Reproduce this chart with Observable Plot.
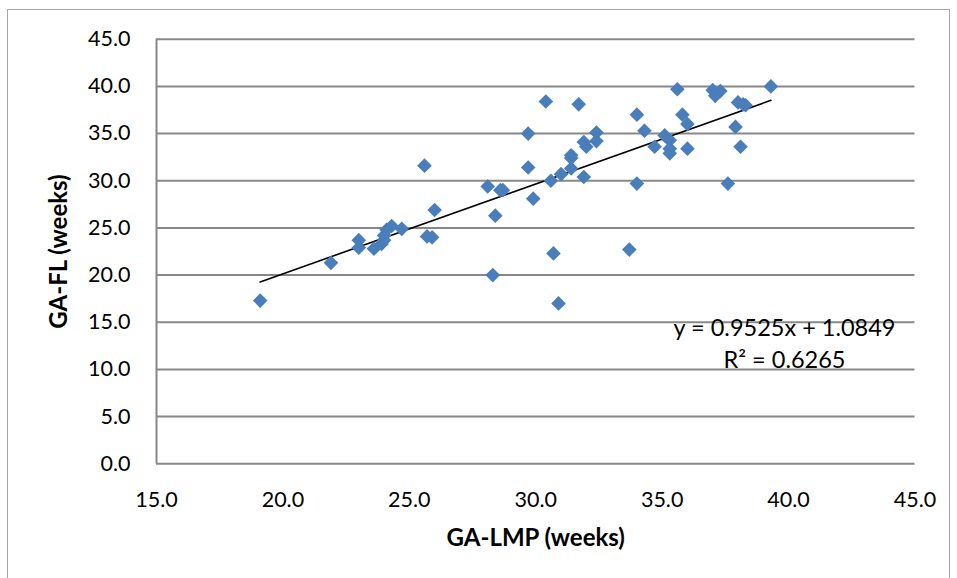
<!DOCTYPE html>
<html><head><meta charset="utf-8">
<script src="https://cdn.jsdelivr.net/npm/d3@7"></script>
<script src="https://cdn.jsdelivr.net/npm/@observablehq/plot@0.6"></script>
<style>
body{margin:0;background:#fff}
#wrap{position:relative;width:957px;height:578px;overflow:hidden;background:#fff}
#border{position:absolute;left:7px;top:9px;width:941px;height:620px;border:1.5px solid #a6a6a6;pointer-events:none}
#chart{position:absolute;left:0;top:0}
</style>
</head><body>
<div id="wrap"><div id="chart"></div><div id="border"></div></div>
<script>
// GA-LMP (weeks) and GA-FL (weeks)
const gaLmp = [19.1,21.9,23.0,23.0,23.6,23.9,24.0,24.0,24.1,24.3,24.7,25.6,25.7,25.9,26.0,
  28.1,28.6,28.7,28.4,28.3,29.7,29.7,29.9,30.4,30.6,30.7,30.9,31.0,31.4,31.4,31.4,31.7,31.9,31.9,32.0,32.4,32.4,
  33.7,34.0,34.0,34.3,34.7,35.1,35.3,35.3,35.3,35.6,35.8,36.0,36.0,37.0,37.1,37.3,37.6,37.9,38.0,38.1,38.2,38.3,39.3];
const gaFl = [17.3,21.3,23.7,22.9,22.8,23.3,23.7,24.2,24.8,25.2,24.9,31.6,24.1,24.0,26.9,
  29.4,29.0,29.0,26.3,20.0,35.0,31.4,28.1,38.4,30.0,22.3,17.0,30.7,31.3,32.7,32.4,38.1,34.1,30.4,33.6,35.1,34.2,
  22.7,37.0,29.7,35.3,33.6,34.8,34.3,33.4,32.9,39.7,37.0,36.0,33.4,39.6,39.0,39.5,29.7,35.7,38.3,33.6,38.1,38.0,40.0];
const xTicks = [15,20,25,30,35,40,45];
const yTicks = [0,5,10,15,20,25,30,35,40,45];
const slope = 0.9525, intercept = 1.0849, r2 = 0.6265;
const xTitle = "GA-LMP (weeks)", yTitle = "GA-FL (weeks)";

const data = gaLmp.map((x, i) => ({x, y: gaFl[i]}));
const xMin = d3.min(gaLmp), xMax = d3.max(gaLmp);
const trend = [xMin, xMax].map(x => ({x, y: slope * x + intercept}));
const eqText = `y = ${slope}x + ${intercept}\nR² = ${r2}`;

const chart = Plot.plot({
  width: 957,
  height: 578,
  marginLeft: 156,
  marginRight: 42.5,
  marginTop: 38.7,
  marginBottom: 114.7,
  style: {fontFamily: "Lato, 'Open Sans', sans-serif", background: "transparent", color: "#000"},
  x: {domain: [15, 45]},
  y: {domain: [0, 45]},
  marks: [
    Plot.gridY(yTicks, {stroke: "#888", strokeOpacity: 1, strokeWidth: 2}),
    Plot.ruleX([15], {stroke: "#888", strokeWidth: 2}),
    Plot.axisY(yTicks, {tickSize: 0, tickPadding: 26, tickFormat: d => d.toFixed(1), fontSize: 21.5, label: null}),
    Plot.axisX(xTicks, {tickSize: 0, tickPadding: 28, tickFormat: d => d.toFixed(1), fontSize: 21.5, label: null}),
    Plot.line(trend, {x: "x", y: "y", stroke: "#000", strokeWidth: 1.6}),
    Plot.dot(data, {x: "x", y: "y", symbol: "diamond2", r: 6.6, fill: "#4a7ebb", stroke: "none"}),
    Plot.text([eqText], {frameAnchor: "right", dx: -130.5, dy: 90, textAnchor: "middle", lineAnchor: "middle", fontSize: 23.5, lineHeight: 1.36, fill: "#000"}),
    Plot.text([xTitle], {frameAnchor: "bottom", dy: 75, textAnchor: "middle", lineAnchor: "middle", fontSize: 24, fontWeight: "bold", fill: "#000"}),
    Plot.text([yTitle], {frameAnchor: "left", dx: -97, rotate: -90, textAnchor: "middle", lineAnchor: "middle", fontSize: 24, fontWeight: "bold", fill: "#000"})
  ]
});
document.getElementById("chart").appendChild(chart);
</script>
</body></html>
